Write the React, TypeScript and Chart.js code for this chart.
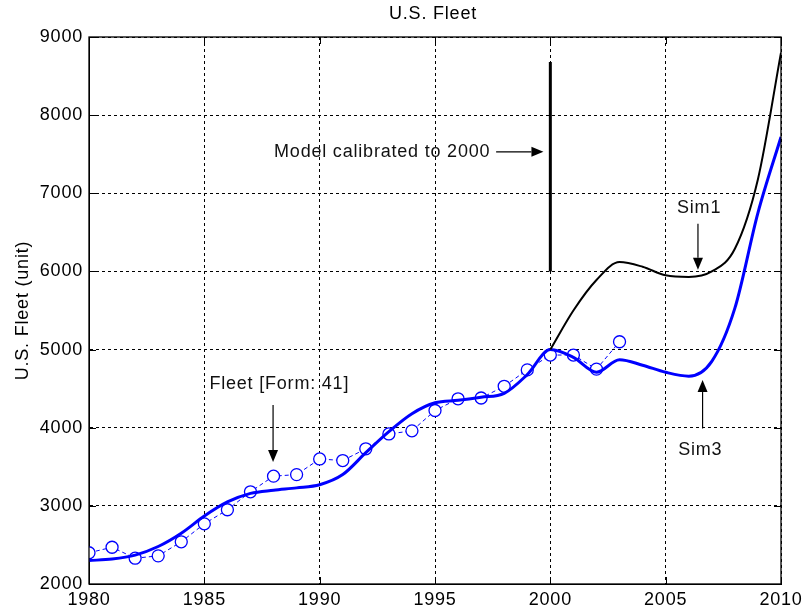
import React, { useEffect, useRef } from "react";
import { Chart, registerables } from "chart.js";

Chart.register(...registerables);

// ---- Data ----
const fleetYears = [1980, 1981, 1982, 1983, 1984, 1985, 1986, 1987, 1988, 1989, 1990, 1991, 1992, 1993, 1994, 1995, 1996, 1997, 1998, 1999, 2000, 2001, 2002, 2003];
const fleetValues = [2400, 2470, 2330, 2360, 2540, 2770, 2950, 3180, 3380, 3400, 3600, 3580, 3730, 3920, 3960, 4220, 4370, 4380, 4530, 4740, 4930, 4930, 4750, 5100];

const sim3Years = [1980, 1981, 1982, 1983, 1984, 1985, 1986, 1987, 1988, 1989, 1990, 1991, 1992, 1993, 1994, 1995, 1996, 1997, 1998, 1999, 2000, 2001, 2002, 2003, 2004, 2005, 2006, 2007, 2008, 2009, 2010];
const sim3Values = [2300, 2320, 2370, 2480, 2650, 2870, 3050, 3160, 3200, 3230, 3270, 3400, 3680, 3950, 4180, 4320, 4350, 4390, 4440, 4680, 5000, 4900, 4710, 4870, 4800, 4710, 4660, 4850, 5530, 6750, 7720];

const sim1Years = [2000, 2001, 2002, 2003, 2004, 2005, 2006, 2007, 2008, 2009, 2010];
const sim1Values = [5000, 5500, 5890, 6120, 6060, 5950, 5930, 6000, 6290, 7180, 8800];

const calibYears = [2000, 2000];
const calibValues = [6000, 8680];

const xTickMin = 1980;
const xTickMax = 2010;
const yTickMin = 2000;
const yTickMax = 9000;

const chartTitle = "U.S. Fleet";
const yAxisTitle = "U.S. Fleet (unit)";

// annotation labels (data coordinates)
const labelCalib = { text: "Model calibrated to 2000", x: 1997.4, y: 7530 };
const labelFleet = { text: "Fleet [Form: 41]", x: 1988.25, y: 4560 };
const labelSim1 = { text: "Sim1", x: 2006.45, y: 6810 };
const labelSim3 = { text: "Sim3", x: 2006.5, y: 3715 };

// arrows: from (x1,y1) to tip (x2,y2)
const arrowCalib = [1997.65, 7530, 1999.7, 7530];
const arrowFleet = [1987.98, 4290, 1987.98, 3560];
const arrowSim1 = [2006.4, 6610, 2006.4, 6020];
const arrowSim3 = [2006.6, 3990, 2006.6, 4610];

const FONT = "'Liberation Sans', Arial, sans-serif";

function pts(xs: number[], ys: number[]) {
  return xs.map((x, i) => ({ x, y: ys[i] }));
}

const decoPlugin = {
  id: "deco",
  beforeDraw(chart: any) {
    (chart.ctx as any).letterSpacing = "0.8px";
  },
  afterDatasetsDraw(chart: any) {
    const { ctx, chartArea: a, scales } = chart;
    const xs = scales.x;
    const ys = scales.y;
    ctx.save();
    (ctx as any).letterSpacing = "0.8px";
    // inward ticks
    ctx.strokeStyle = "#000";
    ctx.lineWidth = 1;
    ctx.setLineDash([]);
    const tl = 7;
    ctx.beginPath();
    for (const t of xs.ticks) {
      const px = Math.round(xs.getPixelForValue(t.value)) + 0.5;
      ctx.moveTo(px, a.bottom);
      ctx.lineTo(px, a.bottom - tl);
      ctx.moveTo(px, a.top);
      ctx.lineTo(px, a.top + tl);
    }
    for (const t of ys.ticks) {
      const py = Math.round(ys.getPixelForValue(t.value)) + 0.5;
      ctx.moveTo(a.left, py);
      ctx.lineTo(a.left + tl, py);
      ctx.moveTo(a.right, py);
      ctx.lineTo(a.right - tl, py);
    }
    ctx.stroke();
    // box
    ctx.lineWidth = 1.3;
    ctx.strokeRect(a.left, a.top, a.right - a.left, a.bottom - a.top);

    // arrows
    const arrow = (arr: number[]) => {
      const x1 = xs.getPixelForValue(arr[0]);
      const y1 = ys.getPixelForValue(arr[1]);
      const x2 = xs.getPixelForValue(arr[2]);
      const y2 = ys.getPixelForValue(arr[3]);
      const ang = Math.atan2(y2 - y1, x2 - x1);
      const hl = 12;
      const hw = 5;
      const bx = x2 - hl * Math.cos(ang);
      const by = y2 - hl * Math.sin(ang);
      ctx.strokeStyle = "#000";
      ctx.fillStyle = "#000";
      ctx.lineWidth = 1.2;
      ctx.beginPath();
      ctx.moveTo(x1, y1);
      ctx.lineTo(bx, by);
      ctx.stroke();
      ctx.beginPath();
      ctx.moveTo(x2, y2);
      ctx.lineTo(bx + hw * Math.sin(ang), by - hw * Math.cos(ang));
      ctx.lineTo(bx - hw * Math.sin(ang), by + hw * Math.cos(ang));
      ctx.closePath();
      ctx.fill();
    };
    arrow(arrowCalib);
    arrow(arrowFleet);
    arrow(arrowSim1);
    arrow(arrowSim3);

    // texts
    ctx.font = `18px ${FONT}`;
    ctx.fillStyle = "#111";
    ctx.textBaseline = "middle";
    const txt = (l: any, align: CanvasTextAlign) => {
      ctx.textAlign = align;
      ctx.fillText(l.text, xs.getPixelForValue(l.x), ys.getPixelForValue(l.y));
    };
    txt(labelCalib, "right");
    txt(labelFleet, "center");
    txt(labelSim1, "center");
    txt(labelSim3, "center");

    // title
    ctx.textAlign = "center";
    ctx.fillStyle = "#000";
    ctx.fillText(chartTitle, (a.left + a.right) / 2 - 2, 14);
    ctx.restore();
  },
  afterDraw(chart: any) {
    (chart.ctx as any).letterSpacing = "0px";
  },
};

export default function App() {
  const canvasRef = useRef<HTMLCanvasElement | null>(null);

  useEffect(() => {
    const canvas = canvasRef.current;
    if (!canvas) return;
    Chart.defaults.font.family = FONT;
    Chart.defaults.font.size = 18;
    Chart.defaults.color = "#000";

    const chart = new Chart(canvas, {
      type: "line",
      data: {
        datasets: [
          {
            label: "Calibration",
            data: pts(calibYears, calibValues),
            borderColor: "#000",
            borderWidth: 3,
            pointRadius: 0,
            tension: 0,
            order: 0,
          },
          {
            label: "Sim1",
            data: pts(sim1Years, sim1Values),
            borderColor: "#000",
            borderWidth: 2,
            pointRadius: 0,
            cubicInterpolationMode: "monotone",
            order: 1,
          },
          {
            label: "Sim3",
            data: pts(sim3Years, sim3Values),
            borderColor: "#0000ff",
            borderWidth: 3,
            pointRadius: 0,
            cubicInterpolationMode: "monotone",
            order: 2,
          },
          {
            label: "Fleet [Form: 41]",
            data: pts(fleetYears, fleetValues),
            borderColor: "#0000ff",
            borderWidth: 1,
            borderDash: [4, 3],
            pointRadius: 6,
            pointBorderWidth: 1.3,
            pointBorderColor: "#0000ff",
            pointBackgroundColor: "#ffffff",
            tension: 0,
            order: 3,
          },
        ],
      },
      options: {
        animation: false,
        responsive: false,
        maintainAspectRatio: false,
        layout: { padding: { top: 37, right: 26, bottom: 0, left: 0 } },
        plugins: {
          legend: { display: false },
          tooltip: { enabled: false },
          title: { display: false },
        },
        scales: {
          x: {
            type: "linear",
            min: xTickMin,
            max: xTickMax,
            ticks: { stepSize: 5, padding: 5, color: "#000", font: { size: 18 }, callback: (v: any) => String(v) },
            grid: { color: "#000", lineWidth: 1, drawTicks: false },
            border: { display: true, color: "#000", width: 1, dash: [3, 3] },
            afterFit: (s: any) => {
              s.height = 31;
            },
          },
          y: {
            type: "linear",
            min: yTickMin,
            max: yTickMax,
            ticks: { stepSize: 1000, padding: 6, color: "#000", font: { size: 18 }, callback: (v: any) => String(v) },
            grid: { color: "#000", lineWidth: 1, drawTicks: false },
            border: { display: true, color: "#000", width: 1, dash: [3, 3] },
            title: { display: true, text: yAxisTitle, color: "#000", font: { size: 18 }, padding: { top: 12, bottom: 0 } },
            afterFit: (s: any) => {
              s.width = 89;
            },
          },
        },
      },
      plugins: [decoPlugin],
    } as any);
    return () => chart.destroy();
  }, []);

  return (
    <div style={{ position: "absolute", left: 0, top: 0, width: 807, height: 615, background: "#fff" }}>
      <canvas ref={canvasRef} width={807} height={615} style={{ display: "block", width: 807, height: 615 }} />
    </div>
  );
}
